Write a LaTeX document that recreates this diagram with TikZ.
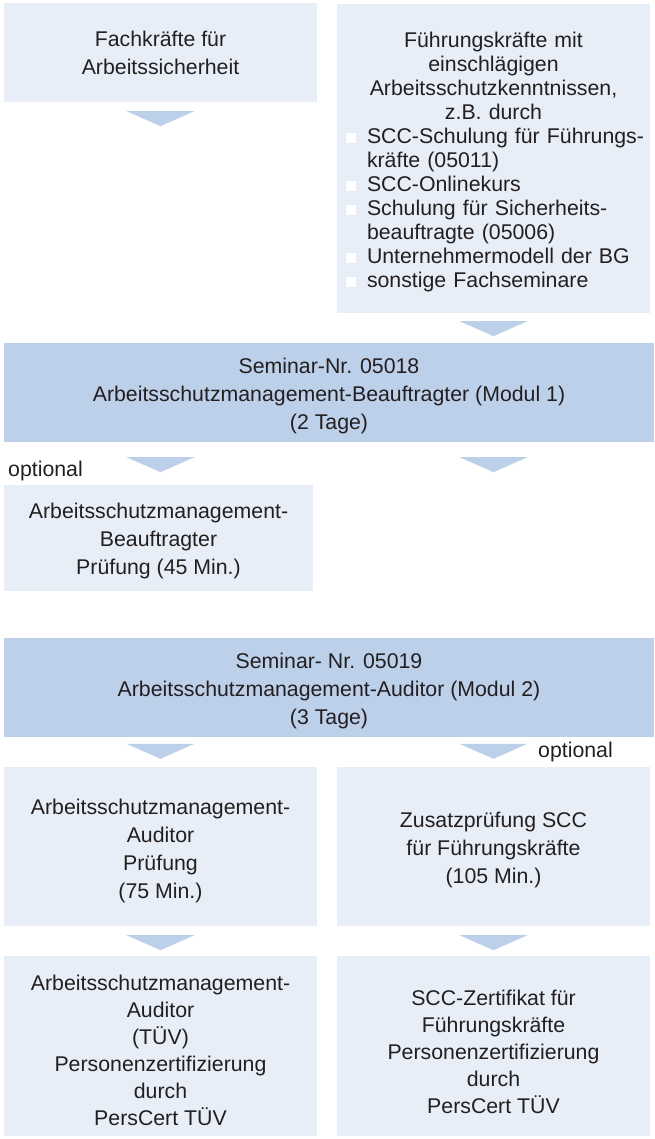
\documentclass[tikz,border=0pt]{standalone}
\usepackage{fontspec}
\setmainfont{Liberation Sans}
\usepackage{xcolor}
\usetikzlibrary{positioning, calc}
\setlength{\parindent}{0pt}

\definecolor{boxlight}{RGB}{232,238,247}
\definecolor{boxdark}{RGB}{189,208,234}
\definecolor{txtgrey}{RGB}{35,31,32}
\newcommand{\sqbul}{\hspace*{4.5pt}\makebox[21pt][l]{\textcolor{white}{\rule[1pt]{10pt}{10pt}}}}
\newcommand{\sqind}{\hspace*{25.5pt}}
\newcommand{\boxstrut}[1]{\rule{0pt}{#1}}

\begin{document}
\begin{tikzpicture}[x=1pt, y=-1pt,
  lbox/.style={rectangle, fill=boxlight, inner sep=0pt, align=center, text=txtgrey, font=\fontsize{21.3}{28}\selectfont},
  dbox/.style={lbox, fill=boxdark},
  tri/.style={fill=boxdark},
  lab/.style={font=\fontsize{21.3}{28}\selectfont, text=txtgrey, inner sep=0pt}
]
  \useasboundingbox (0,0) rectangle (654,1139);

  % Eingangsvoraussetzungen
  \node[lbox, minimum width=313, minimum height=99] (fach) at (160.5,52.5)
    {\boxstrut{17pt}Fachkräfte für\\Arbeitssicherheit};
  \node[lbox, minimum width=313, minimum height=309, text width=304, align=left,
        font=\fontsize{21.3}{24}\selectfont] (fuehr) at (493.5,158.5)
    {{\centering\boxstrut{23pt}Führungskräfte mit\\einschlägigen\\Arbeitsschutzkenntnissen,\\z.B. durch\par}
     \sqbul SCC-Schulung für Führungs-\\
     \sqind kräfte (05011)\\
     \sqbul SCC-Onlinekurs\\
     \sqbul Schulung für Sicherheits-\\
     \sqind beauftragte (05006)\\
     \sqbul Unternehmermodell der BG\\
     \sqbul sonstige Fachseminare};

  % Modul 1
  \node[dbox, minimum width=650, minimum height=99] (sem1) at (329,392.5)
    {\boxstrut{23pt}Seminar-Nr. 05018\\Arbeitsschutzmanagement-Beauftragter (Modul 1)\\(2 Tage)};
  \node[lab, anchor=base west] (opt1) at (8,476) {optional};
  \node[lbox, minimum width=309, minimum height=106] (pruef1) at (158.5,538)
    {\boxstrut{22pt}Arbeitsschutzmanagement-\\Beauftragter\\Prüfung (45 Min.)};

  % Modul 2
  \node[dbox, minimum width=650, minimum height=99] (sem2) at (329,687.5)
    {\boxstrut{23pt}Seminar- Nr. 05019\\Arbeitsschutzmanagement-Auditor (Modul 2)\\(3 Tage)};
  \node[lab, anchor=base west] (opt2) at (538,757) {optional};
  \node[lbox, minimum width=313, minimum height=159] (pruef2) at (160.5,846.5)
    {\boxstrut{23.5pt}Arbeitsschutzmanagement-\\Auditor\\Prüfung\\(75 Min.)};
  \node[lbox, minimum width=313, minimum height=159] (zusatz) at (493.5,846.5)
    {\boxstrut{23pt}Zusatzprüfung SCC\\für Führungskräfte\\(105 Min.)};

  % Zertifikate
  \node[lbox, minimum width=313, minimum height=180, font=\fontsize{21.3}{27}\selectfont] (zert1) at (160.5,1046)
    {\boxstrut{24.5pt}Arbeitsschutzmanagement-\\Auditor\\(TÜV)\\Personenzertifizierung\\durch\\PersCert TÜV};
  \node[lbox, minimum width=313, minimum height=180, font=\fontsize{21.3}{27}\selectfont] (zert2) at (493.5,1046)
    {\boxstrut{27.5pt}SCC-Zertifikat für\\Führungskräfte\\Personenzertifizierung\\durch\\PersCert TÜV};

  % Pfeildreiecke
  \coordinate (t1) at ($(fach.south)+(0,9)$);
  \coordinate (t2) at ($(fuehr.south)+(0,8)$);
  \coordinate (t3) at ($(fach.south |- sem1.south)+(0,15)$);
  \coordinate (t4) at ($(fuehr.south |- sem1.south)+(0,15)$);
  \coordinate (t5) at ($(pruef2.north)+(0,-23)$);
  \coordinate (t6) at ($(zusatz.north)+(0,-23)$);
  \coordinate (t7) at ($(pruef2.south)+(0,9)$);
  \coordinate (t8) at ($(zusatz.south)+(0,9)$);
  \foreach \tp in {t1,t2,t3,t4,t5,t6,t7,t8}
    \fill[tri] (\tp) ++(-34,0) -- ++(68,0) -- ++(-34,15) -- cycle;
\end{tikzpicture}
\end{document}
